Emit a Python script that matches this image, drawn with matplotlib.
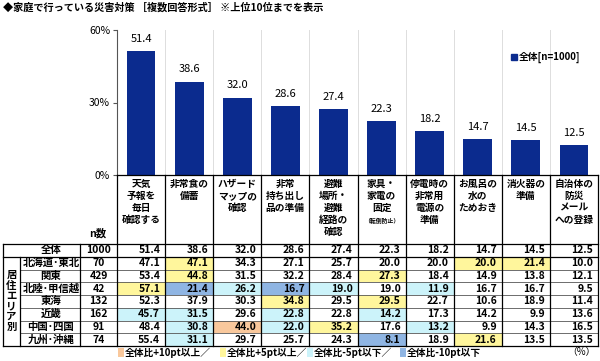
import numpy as np
import matplotlib
matplotlib.use("Agg")
import matplotlib.pyplot as plt
from matplotlib.patches import Rectangle

plt.rcParams['font.family'] = ['Noto Sans CJK JP', 'DejaVu Sans']

# ---- data ----
items = ["天気\n予報を\n毎日\n確認する", "非常食の\n備蓄", "ハザード\nマップの\n確認",
         "非常\n持ち出し\n品の準備", "避難\n場所・\n避難\n経路の\n確認", "家具・\n家電の\n固定",
         "停電時の\n非常用\n電源の\n準備", "お風呂の\n水の\nためおき", "消火器の\n準備",
         "自治体の\n防災\nメール\nへの登録"]
total = [51.4, 38.6, 32.0, 28.6, 27.4, 22.3, 18.2, 14.7, 14.5, 12.5]
total_n = 1000

regions = ["北海道･東北", "関東", "北陸･甲信越", "東海", "近畿", "中国･四国", "九州･沖縄"]
region_n = [70, 429, 42, 132, 162, 91, 74]
hokkaido = [47.1, 47.1, 34.3, 27.1, 25.7, 20.0, 20.0, 20.0, 21.4, 10.0]
kanto = [53.4, 44.8, 31.5, 32.2, 28.4, 27.3, 18.4, 14.9, 13.8, 12.1]
hokuriku = [57.1, 21.4, 26.2, 16.7, 19.0, 19.0, 11.9, 16.7, 16.7, 9.5]
tokai = [52.3, 37.9, 30.3, 34.8, 29.5, 29.5, 22.7, 10.6, 18.9, 11.4]
kinki = [45.7, 31.5, 29.6, 22.8, 22.8, 14.2, 17.3, 14.2, 9.9, 13.6]
chugoku = [48.4, 30.8, 44.0, 22.0, 35.2, 17.6, 13.2, 9.9, 14.3, 16.5]
kyushu = [55.4, 31.1, 29.7, 25.7, 24.3, 8.1, 18.9, 21.6, 13.5, 13.5]
region_vals = [hokkaido, kanto, hokuriku, tokai, kinki, chugoku, kyushu]

bar_color = "#0b2b8e"
c_p10 = "#f9c89c"
c_p5 = "#fff69c"
c_m5 = "#ccf3fa"
c_m10 = "#8fb5e3"

W, H = 600, 361
fig = plt.figure(figsize=(6, 3.61), dpi=100)

# ---- bar chart ----
col_l, col_r = 117, 598
colw = (col_r - col_l) / 10
ax = fig.add_axes([col_l / W, 1 - 175 / H, (col_r - col_l) / W, 145 / H])
x = np.arange(len(total))
ax.bar(x, total, width=0.6, color=bar_color, zorder=3)
for xi, v in zip(x, total):
    ax.text(xi, v + 3, f"{v:.1f}", ha='center', va='bottom', fontsize=8)
ax.set_xlim(-0.5, 9.5)
ax.set_ylim(0, 60)
ax.set_yticks([0, 30, 60])
ax.set_yticklabels(["0%", "30%", "60%"], fontsize=7.5)
ax.set_xticks([])
for g in np.arange(0.5, 9.5, 1):
    ax.axvline(g, color="#dddddd", lw=0.7, zorder=1)
for s in ["top", "right", "bottom"]:
    ax.spines[s].set_visible(False)
ax.spines["left"].set_color("#555555")
ax.tick_params(axis='y', length=3, color="#555555", pad=2)

ax.add_patch(Rectangle((0.82, 0.79), 0.011, 0.045, transform=ax.transAxes,
                       color=bar_color, clip_on=False))
ax.text(0.835, 0.81, "全体[n=1000]", transform=ax.transAxes, fontsize=7,
        fontweight='bold', va='center')

# ---- overlay for title + table ----
ov = fig.add_axes([0, 0, 1, 1])
ov.set_xlim(0, W)
ov.set_ylim(H, 0)
ov.axis('off')
ov.patch.set_alpha(0)

ov.text(3, 8, "◆家庭で行っている災害対策 ［複数回答形式］ ※上位10位までを表示",
        fontsize=7.3, fontweight='bold', va='center', ha='left')

# header labels
for i, lab in enumerate(items):
    cx = col_l + (i + 0.5) * colw
    ov.text(cx, 179, lab, ha='center', va='top', fontsize=7, fontweight='bold',
            linespacing=1.25)
ov.text(col_l + 5.5 * colw, 221, "（転倒防止）", ha='center', va='center',
        fontsize=4.2, fontweight='bold')
ov.text(98, 233, "n数", ha='center', va='center', fontsize=7.5, fontweight='bold')

row_top = 244
rh = 12.75


def cell_color(v, base):
    d = round(v - base, 1)
    if d >= 10:
        return c_p10
    if d >= 5:
        return c_p5
    if d <= -10:
        return c_m10
    if d <= -5:
        return c_m5
    return None


# total row
cy = row_top + rh / 2
ov.text(51, cy, "全体", ha='center', va='center', fontsize=7.5, fontweight='bold')
ov.text(98.5, cy, str(total_n), ha='center', va='center', fontsize=7.5, fontweight='bold')
for i, v in enumerate(total):
    ov.text(col_l + (i + 1) * colw - 5, cy, f"{v:.1f}", ha='right', va='center',
            fontsize=7.5, fontweight='bold')

for j, (reg, n, vals) in enumerate(zip(regions, region_n, region_vals)):
    y0 = row_top + (j + 1) * rh
    cy = y0 + rh / 2
    ov.text(51, cy, reg, ha='center', va='center', fontsize=7.5, fontweight='bold')
    ov.text(98.5, cy, str(n), ha='center', va='center', fontsize=7.5, fontweight='bold')
    for i, v in enumerate(vals):
        c = cell_color(v, total[i])
        if c:
            ov.add_patch(Rectangle((col_l + i * colw, y0), colw, rh, color=c, lw=0, zorder=0))
        ov.text(col_l + (i + 1) * colw - 5, cy, f"{v:.1f}", ha='right', va='center',
                fontsize=7.5, fontweight='bold')

ov.text(11.5, row_top + rh + 3.5 * rh, "\n".join("居住エリア別"), ha='center', va='center',
        fontsize=7.5, fontweight='bold', linespacing=1.05)

# grid lines
bottom = row_top + 8 * rh
ov.plot([3, col_r], [row_top, row_top], color='black', lw=0.9)
ov.plot([3, col_r], [row_top + rh, row_top + rh], color='black', lw=0.9)
for j in range(2, 8):
    ov.plot([20, col_r], [row_top + j * rh] * 2, color='#555555', lw=0.6)
ov.plot([3, col_r], [bottom, bottom], color='black', lw=0.9)
ov.plot([3, 3], [row_top, bottom], color='black', lw=0.9)
ov.plot([20, 20], [row_top + rh, bottom], color='black', lw=0.9)
ov.plot([80, 80], [row_top, bottom], color='black', lw=0.9)
for i in range(11):
    xx = col_l + i * colw
    ov.plot([xx, xx], [175, bottom], color='black', lw=0.9)
ov.plot([col_l, col_r], [175, 175], color='black', lw=0.9)

# legend
leg = [(118, c_p10, "全体比+10pt以上／"), (220, c_p5, "全体比+5pt以上／"),
       (307, c_m5, "全体比-5pt以下／"), (400, c_m10, "全体比-10pt以下")]
for lx, c, t in leg:
    ov.add_patch(Rectangle((lx, 347.5), 5.5, 9, color=c, lw=0))
    ov.text(lx + 6.5, 352.5, t, ha='left', va='center', fontsize=7, fontweight='bold')
ov.text(596, 352.5, "（%）", ha='right', va='center', fontsize=7)

fig.savefig("out.png", dpi=100)
